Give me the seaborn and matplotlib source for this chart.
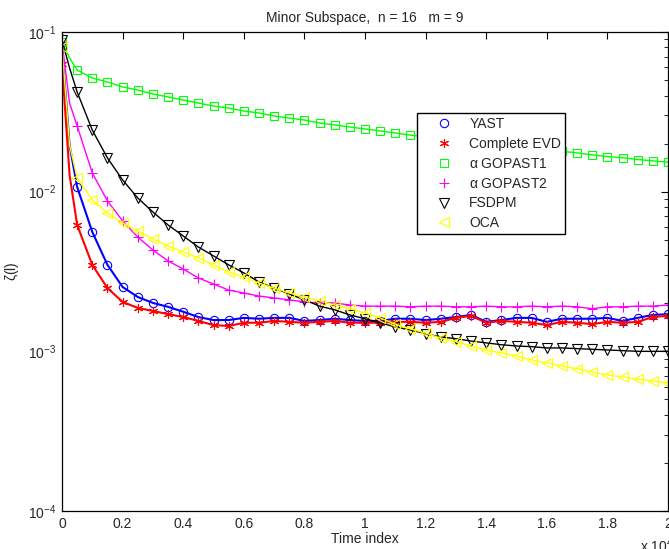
import matplotlib
matplotlib.use('Agg')
import matplotlib.pyplot as plt
from matplotlib.lines import Line2D
import seaborn as sns

# Values: zeta(l) every 500 samples (plus l = 250)
temps = [0, 250] + list(range(500, 20001, 500))

yast = [0.0806, 0.0196, 0.0107, 0.00559, 0.00348, 0.00253, 0.00219, 0.00201, 0.00190, 0.00177,
        0.00164, 0.00157, 0.00157, 0.00162, 0.00160, 0.00162, 0.00162, 0.00155, 0.00157, 0.00160,
        0.00157, 0.00155, 0.00155, 0.00160, 0.00160, 0.00157, 0.00160, 0.00164, 0.00169, 0.00153,
        0.00157, 0.00162, 0.00162, 0.00153, 0.00160, 0.00160, 0.00160, 0.00162, 0.00155, 0.00162,
        0.00169, 0.00171]
evd = [0.0630, 0.01272, 0.00619, 0.00348, 0.00249, 0.00204, 0.00187, 0.00179, 0.00171, 0.00164,
       0.00155, 0.00146, 0.00144, 0.00151, 0.00151, 0.00155, 0.00153, 0.00151, 0.00153, 0.00155,
       0.00151, 0.00151, 0.00151, 0.00153, 0.00153, 0.00151, 0.00153, 0.00162, 0.00167, 0.00151,
       0.00155, 0.00153, 0.00151, 0.00146, 0.00153, 0.00151, 0.00148, 0.00153, 0.00151, 0.00153,
       0.00164, 0.00167]
gopast1 = [0.0866, 0.0687, 0.0578, 0.0515, 0.0486, 0.0453, 0.0433, 0.0409, 0.0392, 0.0375,
           0.0359, 0.0344, 0.0334, 0.0320, 0.0311, 0.0298, 0.0289, 0.0281, 0.0269, 0.0262,
           0.0254, 0.0247, 0.0240, 0.0233, 0.0226, 0.0220, 0.0214, 0.0208, 0.0203, 0.0199,
           0.0195, 0.0191, 0.0187, 0.0182, 0.0179, 0.0175, 0.0170, 0.0166, 0.0163, 0.0159,
           0.0156, 0.0153]
gopast2 = [0.0866, 0.0359, 0.02578, 0.01309, 0.00875, 0.00656, 0.00520, 0.00431, 0.00368, 0.00328,
           0.00288, 0.00264, 0.00242, 0.00232, 0.00222, 0.00216, 0.00210, 0.00204, 0.00201, 0.00201,
           0.00195, 0.00192, 0.00192, 0.00192, 0.00190, 0.00192, 0.00192, 0.00190, 0.00190, 0.00192,
           0.00190, 0.00190, 0.00192, 0.00190, 0.00192, 0.00190, 0.00185, 0.00190, 0.00190, 0.00192,
           0.00192, 0.00195]
fsdpm = [0.0891, 0.0595, 0.0421, 0.0243, 0.01626, 0.01184, 0.00913, 0.00746, 0.00619, 0.00528,
         0.00450, 0.00396, 0.00348, 0.00310, 0.00272, 0.00249, 0.00229, 0.00210, 0.00192, 0.00182,
         0.00169, 0.00160, 0.00151, 0.00142, 0.00136, 0.00129, 0.00123, 0.00120, 0.00116, 0.00113,
         0.00110, 0.00108, 0.00107, 0.00105, 0.00105, 0.00104, 0.00103, 0.00102, 0.00101, 0.00100,
         0.00100, 0.00100]
oca = [0.0806, 0.0196, 0.01219, 0.00887, 0.00735, 0.00637, 0.00568, 0.00506, 0.00457, 0.00419,
       0.00385, 0.00348, 0.00314, 0.00292, 0.00268, 0.00249, 0.00232, 0.00219, 0.00207, 0.00195,
       0.00185, 0.00174, 0.00162, 0.00148, 0.00138, 0.00130, 0.00121, 0.00115, 0.00108, 0.00102,
       0.000977, 0.000936, 0.000883, 0.000845, 0.000810, 0.000776, 0.000743, 0.000711, 0.000692,
       0.000671, 0.000653, 0.000634]

noms = ['YAST', 'Complete EVD', r'$\alpha$ GOPAST1', r'$\alpha$ GOPAST2', 'FSDPM', 'OCA']
etiquettes_x = ['0', '0.2', '0.4', '0.6', '0.8', '1', '1.2', '1.4', '1.6', '1.8', '2']

# Style
sns.set_style('white')
plt.rcParams['font.family'] = ['Liberation Sans', 'DejaVu Sans']
plt.rcParams['mathtext.fontset'] = 'custom'
plt.rcParams['mathtext.rm'] = 'Liberation Sans'
plt.rcParams['mathtext.it'] = 'Liberation Sans:italic'
plt.rcParams['mathtext.default'] = 'regular'

couleurs = ['#0000ff', '#ff0000', '#00ff00', '#ff00ff', '#000000', '#ffff00']
marqueurs = ['o', (6, 2, 0), 's', '+', 'v', '<']
tailles = [6, 6.5, 5.5, 7, 7, 7]
epaisseurs = [1.5, 1.5, 1.0, 1.0, 1.0, 1.0]
series = [yast, evd, gopast1, gopast2, fsdpm, oca]

# markers only on the 500-sample grid
marques = [0] + list(range(2, len(temps)))

fig = plt.figure(figsize=(6.69, 5.49), dpi=100)
ax = fig.add_axes([62 / 669, 38 / 549, 606 / 669, 479 / 549])

for valeurs, c, m, t, lw in zip(series, couleurs, marqueurs, tailles, epaisseurs):
    sns.lineplot(x=temps, y=valeurs, color=c, lw=lw, marker=m, ms=t, mfc='none', mec=c,
                 mew=0.8, markevery=marques, ax=ax, legend=False)

ax.set_yscale('log')
ax.set_ylim(1e-4, 1e-1)
ax.set_xlim(0, 20000)
ax.set_xticks(range(0, 20001, 2000))
ax.set_xticklabels(etiquettes_x)

ax.tick_params(which='both', direction='in', top=True, right=True, labelsize=10,
               color='black', pad=4)
ax.tick_params(which='major', length=5, width=0.8)
ax.tick_params(which='minor', length=3, width=0.6)
for s in ax.spines.values():
    s.set_color('black')
    s.set_linewidth(0.9)

ax.set_title('Minor Subspace,  n = 16   m = 9', fontsize=10, pad=7)
ax.set_xlabel('Time index', fontsize=10, labelpad=1)
ax.set_ylabel(r'$\zeta$(l)', fontsize=10, labelpad=5)
ax.text(0.954, -0.072, r'x 10$^4$', transform=ax.transAxes, fontsize=10, va='center')

# Legend: markers only
poignees = [Line2D([], [], ls='none', marker=m, color=c, mfc='none', mec=c, ms=t, mew=0.8)
            for c, m, t in zip(couleurs, marqueurs, tailles)]
leg = ax.legend(poignees, noms, loc='upper left', bbox_to_anchor=(0.586, 0.831),
                borderaxespad=0, frameon=True, fancybox=False, edgecolor='black',
                framealpha=1, fontsize=10, handlelength=3.2, handletextpad=0.25,
                labelspacing=0.42, borderpad=0.3)
leg.get_frame().set_linewidth(1.0)

fig.savefig('out.png', dpi=100)
